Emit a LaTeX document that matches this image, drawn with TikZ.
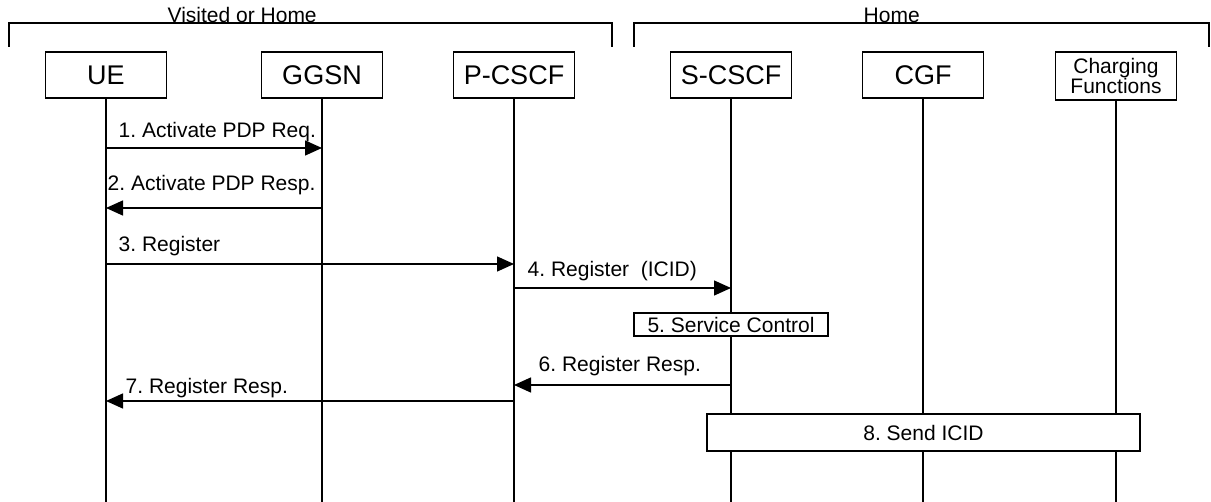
\documentclass[tikz,border=0pt]{standalone}
\usepackage{fontspec}
\setmainfont{Liberation Sans}
\usetikzlibrary{arrows.meta}
\frenchspacing

\begin{document}
\begin{tikzpicture}[x=1pt, y=-1pt, line width=1.4pt,
    ent/.style = {draw, line width=1.8pt, fill=white, minimum width=121pt, minimum height=46pt, inner sep=0pt, font=\fontsize{27}{30}\selectfont},
    msg/.style = {-{Triangle[length=17pt, width=15pt]}},
    lbl/.style = {anchor=base west, inner sep=0pt, font=\fontsize{21}{24}\selectfont},
    act/.style = {draw, line width=1.8pt, fill=white, inner sep=0pt, font=\fontsize{21}{24}\selectfont}]
    \useasboundingbox (0,0) rectangle (1211,502);

    % Parentesi dei domini
    \draw[line width=1.8pt] (9,47) -- (9,23) -- (612,23) -- (612,47);
    \draw[line width=1.8pt] (634,47) -- (634,23) -- (1209,23) -- (1209,47);
    \node[lbl] (vis) at (167,23) {Visited or Home};
    \node[lbl] (home) at (863,23) {Home};

    % Disegna le entita'
    \node[ent] (ue) at (106,75) {UE};
    \node[ent] (ggsn) at (322,75) {GGSN};
    \node[ent] (pcscf) at (514,75) {P-CSCF};
    \node[ent] (scscf) at (731,75) {S-CSCF};
    \node[ent] (cgf) at (923,75) {CGF};
    \node[ent, align=center, minimum height=48pt, font=\fontsize{21}{20}\selectfont] (cf) at (1116,76) {Charging\\Functions};

    \coordinate (bot) at (0,502);
    \foreach \n in {ue,ggsn,pcscf,scscf,cgf,cf}
        \draw (\n.south) -- (\n |- bot);

    % Messaggi
    \coordinate (m1) at (0,148);
    \coordinate (m2) at (0,208);
    \coordinate (m3) at (0,264);
    \coordinate (m4) at (0,288);
    \coordinate (m6) at (0,385);
    \coordinate (m7) at (0,401);

    \draw[msg] (ue |- m1) -- (ggsn |- m1);
    \node[lbl] (l1) at (118,138) {1. Activate PDP Req.};
    \draw[msg] (ggsn |- m2) -- (ue |- m2);
    \node[lbl] (l2) at (107,191) {2. Activate PDP Resp.};
    \draw[msg] (ue |- m3) -- (pcscf |- m3);
    \node[lbl] (l3) at (118,252) {3. Register};
    \draw[msg] (pcscf |- m4) -- (scscf |- m4);
    \node[lbl] (l4) at (527,277) {4. Register~~(ICID)};

    \node[act, minimum width=194pt, minimum height=23pt] (svc) at (731,324.5) {5. Service Control};

    \draw[msg] (scscf |- m6) -- (pcscf |- m6);
    \node[lbl] (l6) at (538,372) {6. Register Resp.};
    \draw[msg] (pcscf |- m7) -- (ue |- m7);
    \node[lbl] (l7) at (125,394) {7. Register Resp.};

    \node[act, minimum width=433pt, minimum height=37pt] (icid) at (923.5,432.5) {8. Send ICID};
\end{tikzpicture}
\end{document}
